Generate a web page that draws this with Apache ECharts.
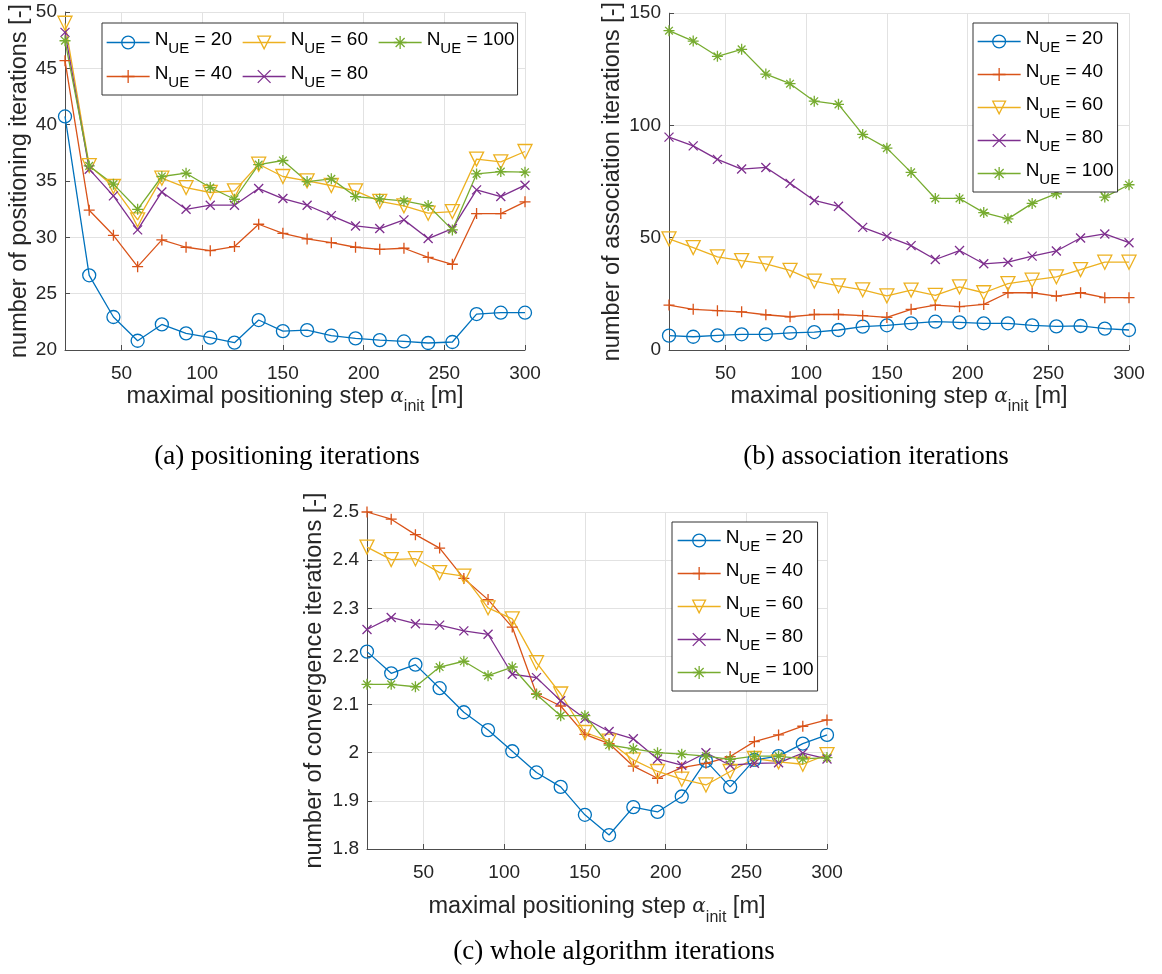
<!DOCTYPE html>
<html>
<head>
<meta charset="utf-8">
<script src="https://cdn.jsdelivr.net/npm/echarts@6/dist/echarts.min.js"></script>
<style>
  html, body { margin: 0; padding: 0; background: #fff; }
  #chart { width: 1162px; height: 974px; }
</style>
</head>
<body>
<div id="chart"></div>
<script>
// Maximal positioning step alpha_init [m]
const steps = [15, 30, 45, 60, 75, 90, 105, 120, 135, 150, 165, 180, 195, 210, 225, 240, 255, 270, 285, 300];
const xTicks = [50, 100, 150, 200, 250, 300];
const ueCounts = ['20', '40', '60', '80', '100'];

// (a) positioning iterations
const pos20  = [40.73, 26.63, 22.93, 20.82, 22.27, 21.48, 21.09, 20.65, 22.66, 21.68, 21.77, 21.27, 21.03, 20.88, 20.76, 20.62, 20.71, 23.19, 23.31, 23.31];
const pos40  = [45.68, 32.41, 30.18, 27.40, 29.77, 29.12, 28.82, 29.18, 31.16, 30.36, 29.86, 29.53, 29.12, 28.94, 29.03, 28.23, 27.61, 32.11, 32.11, 33.15];
const pos60  = [49.00, 36.37, 34.51, 31.55, 35.25, 34.42, 33.98, 34.12, 36.49, 35.40, 35.01, 34.60, 34.12, 33.20, 32.79, 32.14, 32.29, 36.94, 36.70, 37.62];
const pos80  = [48.19, 36.05, 33.68, 30.66, 34.03, 32.49, 32.85, 32.85, 34.33, 33.44, 32.85, 31.93, 31.01, 30.78, 31.55, 29.89, 30.78, 34.21, 33.62, 34.63];
const pos100 = [47.45, 36.34, 34.72, 32.49, 35.40, 35.69, 34.42, 33.38, 36.46, 36.82, 34.95, 35.19, 33.62, 33.41, 33.23, 32.82, 30.66, 35.63, 35.84, 35.78];

// (b) association iterations
const asc20  = [6.4, 5.9, 6.5, 7.0, 7.0, 7.6, 8.0, 8.9, 10.4, 11.0, 11.9, 12.6, 12.3, 11.9, 11.9, 11.0, 10.5, 10.7, 9.5, 8.9];
const asc40  = [20.0, 18.1, 17.5, 17.0, 15.7, 14.8, 15.8, 15.8, 15.3, 14.5, 18.1, 20.0, 19.3, 20.3, 25.5, 25.5, 24.0, 25.5, 23.3, 23.3];
const asc60  = [49.5, 45.6, 41.5, 39.8, 38.4, 35.5, 30.7, 28.6, 26.8, 24.1, 26.7, 24.3, 28.1, 25.5, 29.6, 31.1, 32.6, 35.8, 39.1, 39.1];
const asc80  = [94.8, 90.9, 84.9, 80.6, 81.3, 74.2, 66.6, 64.0, 54.6, 50.6, 46.5, 40.3, 44.3, 38.4, 39.1, 41.8, 44.1, 49.9, 51.7, 47.8];
const asc100 = [142.2, 137.6, 130.8, 133.9, 122.9, 118.6, 110.8, 109.4, 96.0, 89.9, 79.1, 67.5, 67.5, 61.2, 58.4, 65.3, 69.6, 82.0, 68.1, 73.6];

// (c) whole algorithm (convergence) iterations
const conv20  = [2.210, 2.165, 2.183, 2.134, 2.084, 2.047, 2.003, 1.959, 1.929, 1.871, 1.829, 1.887, 1.877, 1.909, 1.983, 1.929, 1.985, 1.993, 2.019, 2.037];
const conv40  = [2.500, 2.485, 2.453, 2.425, 2.362, 2.318, 2.261, 2.122, 2.097, 2.038, 2.019, 1.972, 1.947, 1.969, 1.978, 1.992, 2.023, 2.037, 2.055, 2.068];
const conv60  = [2.427, 2.401, 2.403, 2.374, 2.367, 2.301, 2.278, 2.187, 2.122, 2.042, 2.024, 1.985, 1.961, 1.945, 1.933, 1.961, 1.988, 1.981, 1.976, 1.996];
const conv80  = [2.256, 2.281, 2.268, 2.265, 2.253, 2.246, 2.163, 2.156, 2.108, 2.071, 2.044, 2.029, 1.987, 1.974, 2.000, 1.974, 1.978, 1.979, 1.999, 1.987];
const conv100 = [2.142, 2.142, 2.137, 2.178, 2.190, 2.160, 2.178, 2.121, 2.077, 2.077, 2.016, 2.008, 2.000, 1.997, 1.993, 1.986, 1.993, 1.993, 1.987, 1.990];

const SANS = 'Liberation Sans, Arial, sans-serif';
const SERIF = 'Liberation Serif, Times New Roman, serif';
const AXIS_COLOR = '#4d4d4d';
const TEXT_COLOR = '#262626';
const GRID_COLOR = '#e2e2e2';

// marker look per N_UE, in series order
const looks = [
  { color: '#0072BD', symbol: 'circle', size: 13, rotate: 0 },
  { color: '#D95319', symbol: 'path://M5 0 L5 10 M0 5 L10 5', size: 11, rotate: 0 },
  { color: '#EDB120', symbol: 'triangle', size: 14, rotate: 180 },
  { color: '#7E2F8E', symbol: 'path://M0 0 L10 10 M10 0 L0 10', size: 9, rotate: 0 },
  { color: '#77AC30', symbol: 'path://M5 0 L5 10 M0 5 L10 5 M1.5 1.5 L8.5 8.5 M8.5 1.5 L1.5 8.5', size: 11, rotate: 0 }
];

const panels = [
  { values: [pos20, pos40, pos60, pos80, pos100] },
  { values: [asc20, asc40, asc60, asc80, asc100] },
  { values: [conv20, conv40, conv60, conv80, conv100] }
];

const series = [];
panels.forEach((p, gi) => {
  p.values.forEach((vals, si) => {
    const lk = looks[si];
    series.push({
      type: 'line',
      name: ueCounts[si],
      xAxisIndex: gi,
      yAxisIndex: gi,
      data: steps.map((x, i) => [x, vals[i]]),
      symbol: lk.symbol,
      symbolSize: lk.size,
      symbolRotate: lk.rotate,
      showSymbol: true,
      showAllSymbol: true,
      clip: false,
      lineStyle: { color: lk.color, width: 1.3 },
      itemStyle: { color: 'rgba(0,0,0,0)', borderColor: lk.color, borderWidth: 1.3 },
      emphasis: { disabled: true },
      animation: false
    });
  });
});

const xName = '{t|maximal positioning step }{a|α}{s|init}{t| [m]}';
const xNameRich = {
  t: { fontFamily: SANS, fontSize: 23.5, color: TEXT_COLOR, lineHeight: 24, padding: [0, 0, 6, 0] },
  a: { fontFamily: 'DejaVu Serif', fontStyle: 'italic', fontSize: 20, color: TEXT_COLOR, lineHeight: 24, padding: [0, 0, 6, 0] },
  s: { fontFamily: SANS, fontSize: 16, color: TEXT_COLOR, lineHeight: 15, padding: [15, 0, 0, 0] }
};

function xAxis(gi, nameGap) {
  return {
    type: 'value', gridIndex: gi, min: 15, max: 300,
    axisLine: { show: true, onZero: false, lineStyle: { color: AXIS_COLOR, width: 1 } },
    axisTick: { show: true, inside: true, length: 5, customValues: xTicks, lineStyle: { color: AXIS_COLOR } },
    axisLabel: { customValues: xTicks, fontFamily: SANS, fontSize: 19, color: TEXT_COLOR, margin: 14 },
    splitLine: { show: true, lineStyle: { color: GRID_COLOR, width: 1 } },
    name: xName, nameLocation: 'middle', nameGap: nameGap,
    nameTextStyle: { rich: xNameRich }
  };
}

function yAxis(gi, min, max, interval, name, nameGap, fmt) {
  return {
    type: 'value', gridIndex: gi, min: min, max: max, interval: interval,
    axisLine: { show: true, onZero: false, lineStyle: { color: AXIS_COLOR, width: 1 } },
    axisTick: { show: true, inside: true, length: 5, lineStyle: { color: AXIS_COLOR } },
    axisLabel: { fontFamily: SANS, fontSize: 19, color: TEXT_COLOR, margin: 8, formatter: fmt },
    splitLine: { show: true, lineStyle: { color: GRID_COLOR, width: 1 } },
    name: name, nameLocation: 'middle', nameGap: nameGap,
    nameTextStyle: { fontFamily: SANS, fontSize: 23.5, color: TEXT_COLOR }
  };
}

const legendRich = {
  n: { fontFamily: SANS, fontSize: 19, color: '#000', lineHeight: 20, padding: [0, 0, 6, 0] },
  s: { fontFamily: SANS, fontSize: 15, color: '#000', lineHeight: 14, padding: [12, 0, 0, 0] },
  e: { fontFamily: SANS, fontSize: 19, color: '#000', lineHeight: 20, padding: [0, 3, 6, 0] }
};
function legend(extra) {
  return Object.assign({
    itemWidth: 43,
    itemHeight: 16,
    itemGap: 6,
    backgroundColor: '#fff',
    borderColor: '#333',
    borderWidth: 1,
    borderRadius: 0,
    selectedMode: false,
    formatter: name => '{n|N}{s|UE}{e| = ' + name + '}',
    textStyle: { rich: legendRich },
    itemStyle: { borderWidth: 1.3 },
    lineStyle: { width: 1.3 },
    z: 10
  }, extra);
}

const captionFont = '27px ' + SERIF;
const option = {
  backgroundColor: '#fff',
  animation: false,
  grid: [
    { left: 65, top: 12, width: 460, height: 338 },
    { left: 669, top: 12, width: 460, height: 338 },
    { left: 367, top: 512, width: 460, height: 337 }
  ],
  xAxis: [xAxis(0, 37), xAxis(1, 37), xAxis(2, 49)],
  yAxis: [
    yAxis(0, 20, 50, 5, 'number of positioning iterations [-]', 30, v => String(v)),
    yAxis(1, 0, 150, 50, 'number of association iterations [-]', 44, v => String(v)),
    yAxis(2, 1.8, 2.5, 0.1, 'number of convergence iterations [-]', 40, v => String(+v.toFixed(1)))
  ],
  legend: [
    legend({ orient: 'horizontal', left: 102, top: 23, width: 420, itemGap: 7, padding: [6, 0, 5, 4],
             data: ['20', '60', '100', '40', '80'] }),
    legend({ orient: 'vertical', left: 973, top: 23, padding: [5, 1, 5, 4], data: ueCounts }),
    legend({ orient: 'vertical', left: 672, top: 522, padding: [5, 1, 5, 5], data: ueCounts })
  ],
  graphic: [
    { type: 'text', silent: true, style: { text: '(a) positioning iterations', x: 287, y: 457, textAlign: 'center', textVerticalAlign: 'middle', font: captionFont, fill: '#000' } },
    { type: 'text', silent: true, style: { text: '(b) association iterations', x: 876, y: 457, textAlign: 'center', textVerticalAlign: 'middle', font: captionFont, fill: '#000' } },
    { type: 'text', silent: true, style: { text: '(c) whole algorithm iterations', x: 614, y: 952, textAlign: 'center', textVerticalAlign: 'middle', font: captionFont, fill: '#000' } }
  ],
  series: series
};

const chart = echarts.init(document.getElementById('chart'), null, { renderer: 'canvas' });
chart.setOption(option);
</script>
</body>
</html>
